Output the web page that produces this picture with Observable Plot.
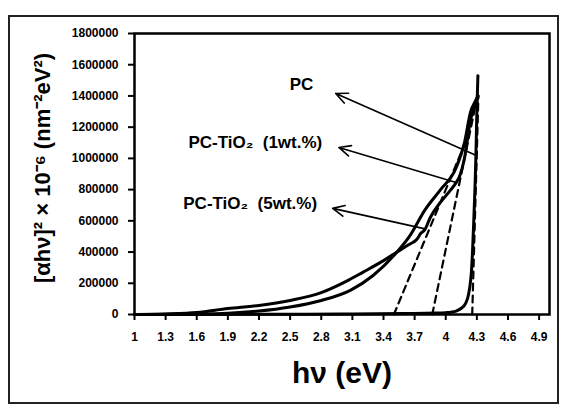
<!DOCTYPE html>
<html>
<head>
<meta charset="utf-8">
<script src="https://cdn.jsdelivr.net/npm/d3@7"></script>
<script src="https://cdn.jsdelivr.net/npm/@observablehq/plot@0.6"></script>
<style>
  body { margin: 0; background: white; }
  #wrap { position: relative; width: 566px; height: 411px; }
  #border { position: absolute; left: 8px; top: 15px; width: 547px; height: 385px; border: 2px solid #222; pointer-events: none; }
</style>
</head>
<body>
<div id="wrap"><div id="border"></div></div>
<script>
// Tick values
const xTicks = [1, 1.3, 1.6, 1.9, 2.2, 2.5, 2.8, 3.1, 3.4, 3.7, 4, 4.3, 4.6, 4.9];
const yTicks = [0, 200000, 400000, 600000, 800000, 1000000, 1200000, 1400000, 1600000, 1800000];

// Series: PC
const pcX = [1.0, 2.0, 3.0, 3.6, 3.9, 4.0, 4.05, 4.1, 4.15, 4.19, 4.22, 4.25, 4.27, 4.29, 4.30, 4.31];
const pcY = [0, 1000, 3000, 6000, 9000, 12000, 15000, 22000, 40000, 70000, 130000, 300000, 600000, 1000000, 1300000, 1530000];

// Series: PC-TiO2 (5wt.%) – upper at low energy, kink near 3.04 eV
const t5X = [1.0, 1.3, 1.6, 1.9, 2.2, 2.5, 2.8, 3.04, 3.2, 3.4, 3.53, 3.65, 3.72, 3.76, 3.8, 3.85, 3.95, 4.05, 4.1, 4.13, 4.18, 4.24, 4.28, 4.31];
const t5Y = [0, 4000, 13000, 38000, 58000, 90000, 140000, 212000, 270000, 345000, 400000, 450000, 480000, 520000, 545000, 620000, 720000, 800000, 845000, 880000, 1000000, 1250000, 1340000, 1400000];

// Series: PC-TiO2 (1wt.%) – smooth curve
const t1X = [1.0, 1.6, 1.9, 2.2, 2.5, 2.8, 3.08, 3.3, 3.53, 3.65, 3.8, 3.95, 4.1, 4.18, 4.24, 4.28, 4.31];
const t1Y = [0, 3000, 8000, 22000, 48000, 90000, 155000, 250000, 400000, 500000, 670000, 800000, 940000, 1100000, 1300000, 1360000, 1400000];

// Tangent (band-gap) extrapolation lines
const tangentPC = [[4.255, 0], [4.315, 1400000]];
const tangent1 = [[3.87, 0], [4.29, 1350000]];
const tangent5 = [[3.50, 0], [4.20, 1120000]];

// Labels and arrows
const labelText = ["PC", "PC-TiO₂  (1wt.%)", "PC-TiO₂  (5wt.%)"];
const labelX = [2.61, 1.52, 1.47];
const labelY = [1473000, 1100000, 711000];
const arrowFromX = [4.29, 4.10, 3.79];
const arrowFromY = [1020000, 845000, 550000];
const arrowToX = [2.94, 2.97, 2.91];
const arrowToY = [1416000, 1070000, 680000];

const xTitle = "hν (eV)";
const yTitle = "[αhν]² × 10⁻⁶ (nm⁻²eV²)";

const toPts = (xs, ys) => xs.map((x, i) => ({x, y: ys[i]}));
const labels = labelText.map((t, i) => ({t, x: labelX[i], y: labelY[i]}));
const arrows = arrowFromX.map((x, i) => ({x1: x, y1: arrowFromY[i], x2: arrowToX[i], y2: arrowToY[i]}));
const fmtX = d => String(+d.toFixed(1));
const lblStyle = {x: "x", y: "y", text: "t", fontSize: 17, fontWeight: "bold", fill: "black"};

const chart = Plot.plot({
  width: 566,
  height: 411,
  marginLeft: 134,
  marginRight: 17,
  marginTop: 33,
  marginBottom: 97,
  style: {fontFamily: "Liberation Sans, Arial, sans-serif", background: "transparent", color: "black"},
  x: {domain: [1, 5]},
  y: {domain: [0, 1800000]},
  marks: [
    Plot.axisX({ticks: xTicks, tickSize: 6, tickPadding: 12, tickFormat: fmtX, fontSize: 12, fontWeight: "bold", strokeWidth: 2, label: null}),
    Plot.axisY({ticks: yTicks, tickSize: 6, tickPadding: 10, tickFormat: d => String(d), fontSize: 12, fontWeight: "bold", strokeWidth: 2, label: null}),
    Plot.line(toPts(pcX, pcY), {x: "x", y: "y", curve: "monotone-x", stroke: "black", strokeWidth: 3}),
    Plot.line(toPts(t5X, t5Y), {x: "x", y: "y", curve: "monotone-x", stroke: "black", strokeWidth: 3}),
    Plot.line(toPts(t1X, t1Y), {x: "x", y: "y", curve: "monotone-x", stroke: "black", strokeWidth: 3}),
    Plot.line(tangentPC, {stroke: "black", strokeWidth: 2.2, strokeDasharray: "7,5"}),
    Plot.line(tangent1, {stroke: "black", strokeWidth: 2.2, strokeDasharray: "7,5"}),
    Plot.line(tangent5, {stroke: "black", strokeWidth: 2.2, strokeDasharray: "7,5"}),
    Plot.arrow(arrows, {x1: "x1", y1: "y1", x2: "x2", y2: "y2", stroke: "black", strokeWidth: 1.6, headLength: 12, headAngle: 50}),
    Plot.text(labels.slice(0, 1), {...lblStyle, textAnchor: "middle"}),
    Plot.text(labels.slice(1), {...lblStyle, textAnchor: "start"}),
    Plot.frame({stroke: "black", strokeWidth: 2.5}),
    Plot.text([yTitle], {frameAnchor: "left", dx: -92, dy: -6, rotate: -90, textAnchor: "middle", fontSize: 22, fontWeight: "bold", fill: "black", lineAnchor: "middle"}),
    Plot.text([xTitle], {frameAnchor: "bottom", dy: 59, textAnchor: "middle", fontSize: 30, fontWeight: "bold", fill: "black", lineAnchor: "middle"})
  ]
});
document.getElementById("wrap").prepend(chart);
</script>
</body>
</html>
